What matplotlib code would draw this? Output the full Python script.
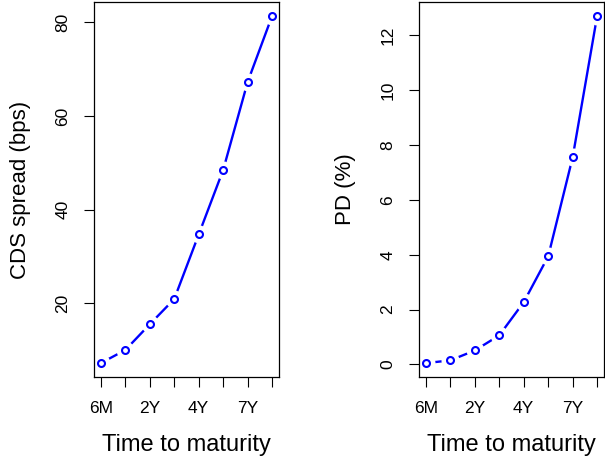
import matplotlib
matplotlib.use('Agg')
import matplotlib.pyplot as plt
import numpy as np

# term structure
maturity = ['6M', '1Y', '2Y', '3Y', '4Y', '5Y', '7Y', '10Y']
cds_spread = [7.2, 10.0, 15.5, 20.9, 34.7, 48.5, 67.3, 81.4]   # bps
pd_pct = [0.05, 0.15, 0.51, 1.06, 2.27, 3.94, 7.55, 12.7]      # %
cds_ticks = [20, 40, 60, 80]
pd_ticks = [0, 2, 4, 6, 8, 10, 12]


def r_limits(values):
	lo, hi = min(values), max(values)
	d = 0.04*(hi - lo)
	return lo - d, hi + d


def panel(ax, y, yticks, ylabel):
	x = np.arange(1, len(y) + 1)
	# R type="b": line with gaps round the points
	ax.plot(x, y, '-', color='#0000FF', lw=1.7, zorder=1)
	ax.plot(x, y, 'o', ms=13, mfc='white', mec='none', zorder=1.5)
	ax.plot(x, y, 'o', ms=5, mfc='none', mec='#0000FF', mew=1.5, zorder=2)
	ax.set_xlim(r_limits(x))
	ax.set_ylim(r_limits(y))
	ax.set_xticks(x)
	ax.set_xticklabels([m if i % 2 == 0 else '' for i, m in enumerate(maturity)])
	ax.set_yticks(yticks)
	ax.tick_params(axis='both', length=7, width=0.8, labelsize=12.5, direction='out')
	ax.tick_params(axis='x', pad=10)
	ax.tick_params(axis='y', pad=10)
	plt.setp(ax.get_yticklabels(), rotation=90, va='center')
	for s in ax.spines.values():
		s.set_linewidth(0.9)
	ax.set_xlabel('Time to maturity', fontsize=17)
	ax.set_ylabel(ylabel, fontsize=16)
	ax.xaxis.set_label_coords(0.5, -0.152)
	ax.yaxis.set_label_coords(-0.34, 0.5)


def main():
	plt.rcParams['font.family'] = ['Liberation Sans', 'DejaVu Sans']
	fig = plt.figure(figsize=(6.05, 4.57), dpi=100)
	ax1 = fig.add_axes([94/605, 80/457, 185/605, 375/457])
	ax2 = fig.add_axes([419/605, 80/457, 185/605, 375/457])
	panel(ax1, cds_spread, cds_ticks, 'CDS spread (bps)')
	panel(ax2, pd_pct, pd_ticks, 'PD (%)')
	fig.savefig('out.png', dpi=100)


if __name__ == "__main__":
	main()
